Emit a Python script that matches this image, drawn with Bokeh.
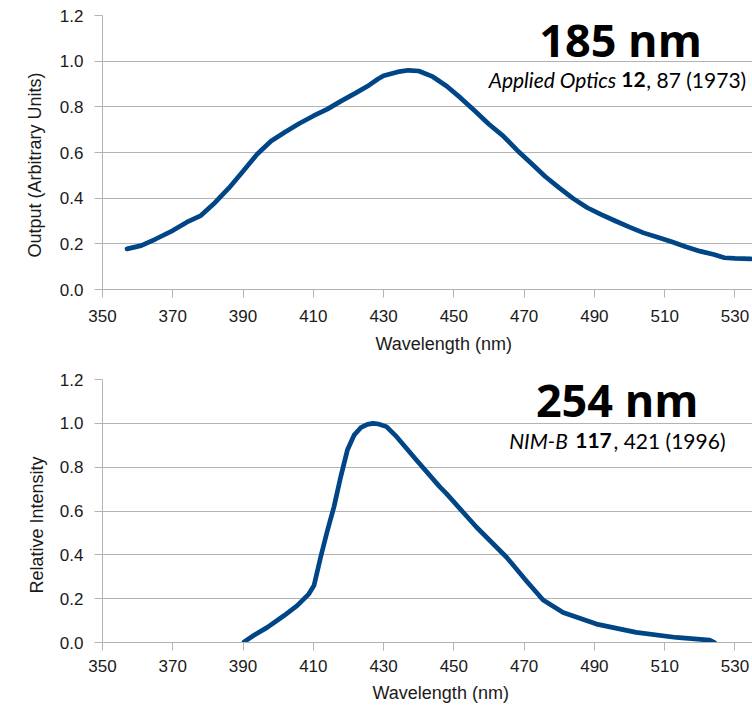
from bokeh.plotting import figure
from bokeh.layouts import column
from bokeh.models import Label, FixedTicker, NumeralTickFormatter, Range1d, Title
from bokeh.embed import file_html
from bokeh.resources import INLINE

# ---------------- data ----------------
wl_185 = [357, 361, 365, 370, 374, 378, 382, 386, 390, 394, 398, 402, 406, 410,
          414, 418, 422, 426, 428.4, 430, 434, 437, 440, 444, 448, 452, 456, 460,
          464, 468, 472, 476, 480, 484, 488, 492, 496, 500, 504, 508, 512, 516,
          520, 524, 527, 530, 534.5]
out_185 = [0.178, 0.192, 0.220, 0.258, 0.295, 0.324, 0.380, 0.445, 0.518, 0.592,
           0.650, 0.690, 0.727, 0.760, 0.790, 0.826, 0.860, 0.896, 0.922, 0.936,
           0.953, 0.960, 0.957, 0.932, 0.890, 0.838, 0.782, 0.724, 0.673, 0.610,
           0.553, 0.495, 0.445, 0.398, 0.358, 0.328, 0.300, 0.273, 0.248, 0.229,
           0.209, 0.187, 0.168, 0.153, 0.139, 0.136, 0.134]

wl_254 = [390.3, 393, 396.9, 401.6, 405.4, 408.7, 410.2, 412.1, 414.0, 415.9,
          417.8, 419.7, 421.6, 423.5, 425.4, 427.0, 428.5, 430.8, 433.7, 439.4,
          446.0, 447.9, 456.4, 465.0, 470.6, 475.4, 481.1, 490.6, 501.9, 513.3,
          522.8, 524.2]
int_254 = [0.003, 0.032, 0.069, 0.122, 0.168, 0.221, 0.260, 0.390, 0.510, 0.620,
           0.756, 0.878, 0.946, 0.980, 0.995, 1.000, 0.997, 0.985, 0.939, 0.832,
           0.710, 0.679, 0.527, 0.389, 0.282, 0.194, 0.137, 0.084, 0.046, 0.023,
           0.011, 0.000]

x_ticks = [350, 370, 390, 410, 430, 450, 470, 490, 510, 530]
y_ticks = [0.0, 0.2, 0.4, 0.6, 0.8, 1.0, 1.2]
x_title = "Wavelength (nm)"
y_title_185 = "Output (Arbitrary Units)"
y_title_254 = "Relative Intensity"
heading_185 = "185 nm"
cite_185 = ["Applied Optics", "12", ", 87 (1973)"]
heading_254 = "254 nm"
cite_254 = ["NIM-B", "117", ", 421 (1996)"]

# ---------------- styling ----------------
W = 752
X0, X1 = 350, 535
Y0, Y1 = 0.0, 1.2
LINE = "#004586"
GRID = "#b3b3b3"
TXT = "#1a1a1a"
AX_FONT = "Liberation Sans"


def make_panel(H, left, top, bottom, wl, vals, ytitle, heading, cite,
               heading_pos, cite_xs, cite_base, ytitle_start, xtitle_start,
               xlab_standoff, xtitle_standoff, ytitle_standoff):
    p = figure(width=W, height=H, output_backend="svg", toolbar_location=None,
               x_range=Range1d(X0, X1), y_range=Range1d(Y0, Y1),
               min_border_left=left, min_border_right=0,
               min_border_top=top, min_border_bottom=bottom)
    p.outline_line_color = None
    p.background_fill_color = "white"
    p.border_fill_color = "white"
    p.xgrid.grid_line_color = None
    p.ygrid.grid_line_color = GRID
    p.ygrid.grid_line_width = 1

    p.xaxis.ticker = FixedTicker(ticks=x_ticks)
    p.yaxis.ticker = FixedTicker(ticks=y_ticks)
    p.yaxis.formatter = NumeralTickFormatter(format="0.0")
    for ax in (p.xaxis, p.yaxis):
        ax.axis_line_color = GRID
        ax.major_tick_line_color = GRID
        ax.minor_tick_line_color = None
        ax.major_tick_in = 0
        ax.major_tick_out = 8
        ax.major_label_text_font = AX_FONT
        ax.major_label_text_font_size = "17px"
        ax.major_label_text_color = TXT
    p.xaxis.major_label_standoff = xlab_standoff
    p.yaxis.major_label_standoff = 11

    p.line(wl, vals, line_color=LINE, line_width=4.7, line_cap="round",
           line_join="round")

    fw = W - left
    fh = H - top - bottom

    def dx(px):
        return X0 + (px - left) / fw * (X1 - X0)

    def dy(py):
        return Y0 + (H - bottom - py) / fh * (Y1 - Y0)

    # headings
    p.add_layout(Label(x=dx(heading_pos[0]), y=dy(heading_pos[1]), text=heading,
                       text_font="Open Sans", text_font_style="bold",
                       text_font_size="45px", text_color="black",
                       text_align="center", text_baseline="alphabetic"))
    styles = ["italic", "bold", "normal"]
    for t, cx, st in zip(cite, cite_xs, styles):
        p.add_layout(Label(x=dx(cx), y=dy(cite_base), text=t,
                           text_font="Lato", text_font_style=st,
                           text_font_size="21px", text_color="black",
                           text_align="center", text_baseline="alphabetic"))
    # axis titles
    p.add_layout(Title(text=ytitle, align="left", offset=ytitle_start,
                       standoff=ytitle_standoff, text_font=AX_FONT,
                       text_font_size="18px", text_font_style="normal",
                       text_color=TXT), "left")
    p.add_layout(Title(text=x_title, align="left", offset=xtitle_start,
                       standoff=xtitle_standoff, text_font=AX_FONT,
                       text_font_size="18px", text_font_style="normal",
                       text_color=TXT), "below")
    return p


p1 = make_panel(360, 99, 15, 70, wl_185, out_185, y_title_185, heading_185,
                cite_185, (619.4, 39.5), (551, 632.5, 695.5), 79.3,
                32, 273, 12, 14, 23)
p2 = make_panel(349, 102, 19, 67, wl_254, int_254, y_title_254, heading_254,
                cite_254, (616.7, 38.5), (538, 593, 669), 80.3,
                49, 270, 9, 12, 20)

layout = column(p1, p2, spacing=0)
open("out.html", "w").write(file_html(layout, INLINE))
